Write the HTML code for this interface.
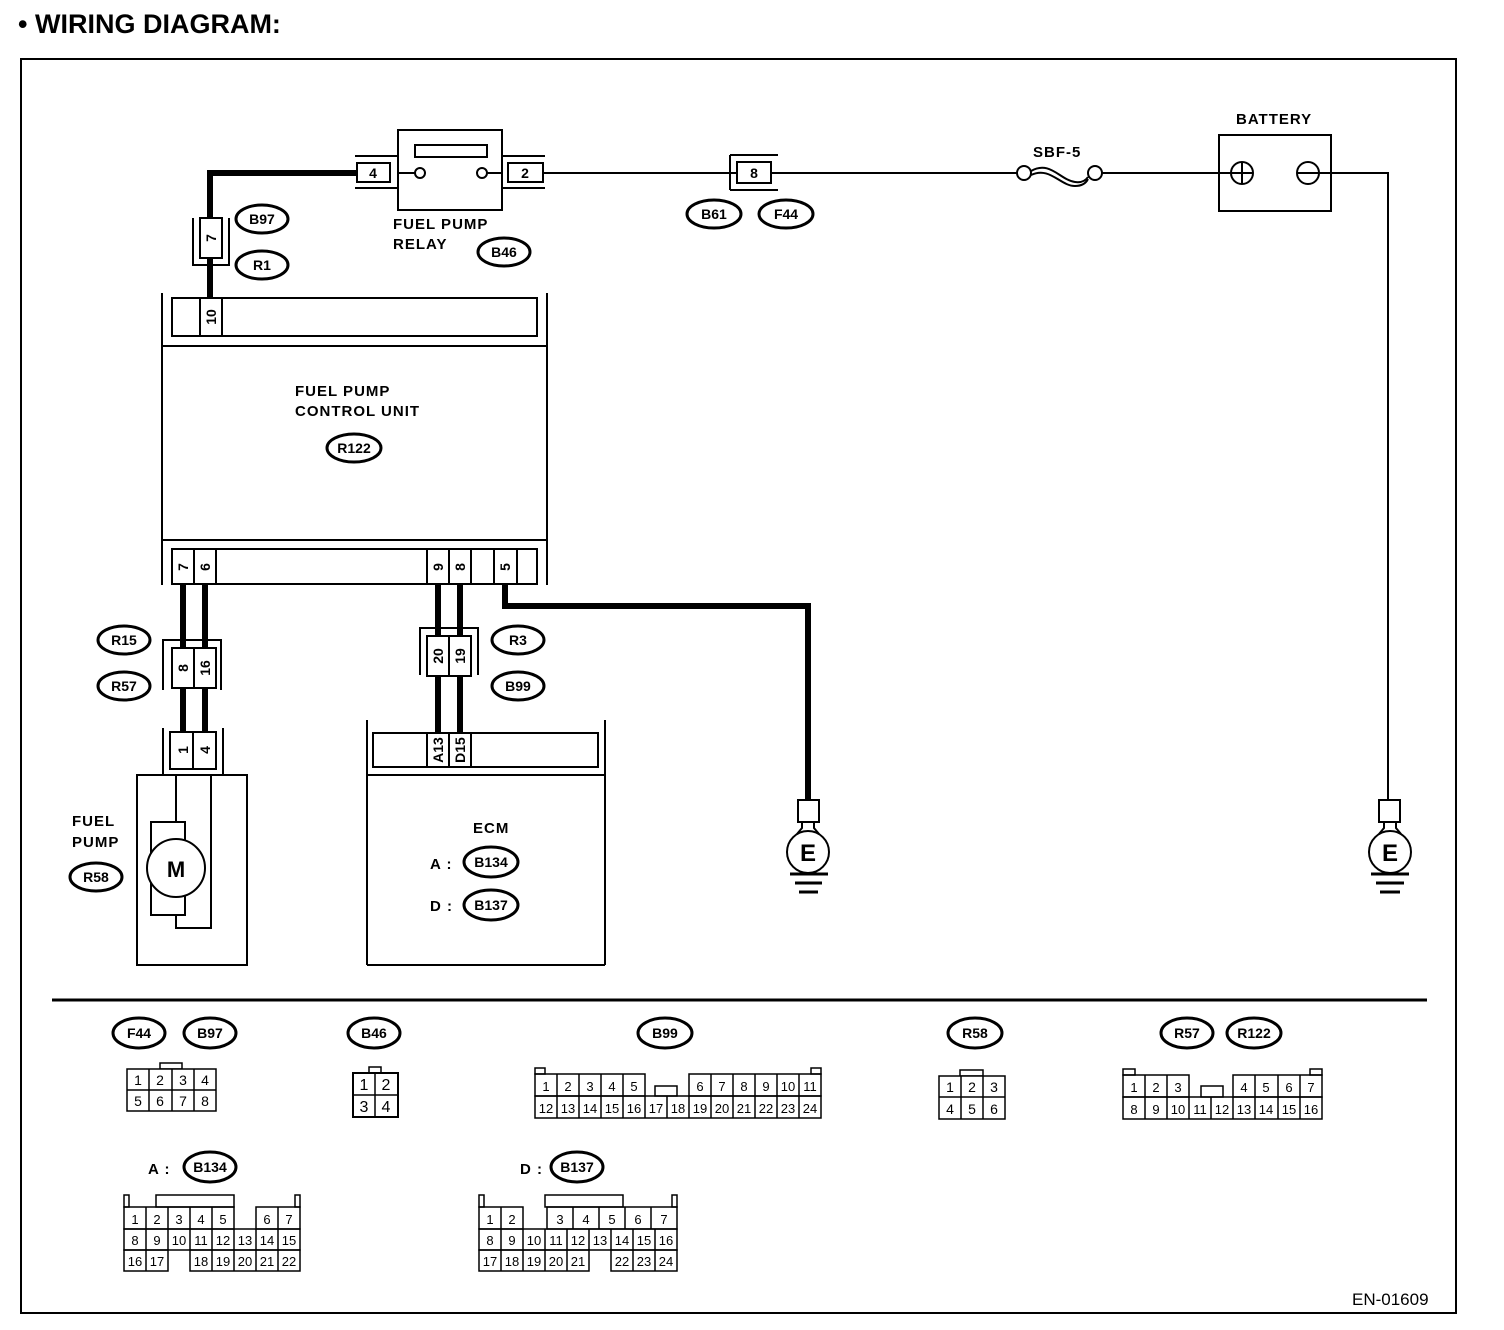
<!DOCTYPE html>
<html><head><meta charset="utf-8"><style>
body{margin:0;background:#fff}
svg{display:block}
text{font-family:"Liberation Sans",sans-serif;fill:#000}
.b{font-weight:bold;font-size:15px;letter-spacing:1px}
.o{font-weight:bold;font-size:14px}
.n{font-size:14px}
</style></head><body>
<svg width="1504" height="1330" viewBox="0 0 1504 1330" xmlns="http://www.w3.org/2000/svg">
<rect width="1504" height="1330" fill="#fff"/>
<text x="18" y="33" style="font-weight:bold;font-size:27px">•  WIRING DIAGRAM:</text>
<rect x="21" y="59" width="1435" height="1254" fill="none" stroke="#000" stroke-width="2"/>

<g fill="none" stroke="#000" stroke-width="2">
<rect x="398" y="130" width="104" height="80"/>
<rect x="415" y="145" width="72" height="12"/>
<circle cx="420" cy="173" r="5"/><circle cx="482" cy="173" r="5"/>
<line x1="398" y1="173" x2="415" y2="173"/><line x1="487" y1="173" x2="502" y2="173"/>
<rect x="357" y="163" width="33" height="19"/>
<line x1="355" y1="156" x2="398" y2="156"/><line x1="355" y1="188" x2="398" y2="188"/>
<rect x="508" y="163" width="35" height="19"/>
<line x1="502" y1="156" x2="545" y2="156"/><line x1="502" y1="188" x2="545" y2="188"/>
<rect x="200" y="218" width="22" height="40"/>
<polyline points="193,218 193,265 229,265 229,218"/>
<line x1="543" y1="173" x2="737" y2="173"/>
<rect x="737" y="162" width="34" height="21"/>
<polyline points="730,155 730,190"/>
<line x1="730" y1="155" x2="778" y2="155"/><line x1="730" y1="190" x2="778" y2="190"/>
<line x1="771" y1="173" x2="1017" y2="173"/>
<circle cx="1024" cy="173" r="7"/><circle cx="1095" cy="173" r="7"/>
<path d="M1031,171 C1050,160 1060,180 1075,182 C1082,183 1086,180 1088,177"/>
<path d="M1031,175 C1050,166 1060,186 1075,186 C1082,186 1086,183 1088,179"/>
<line x1="1102" y1="173" x2="1253" y2="173"/>
<rect x="1219" y="135" width="112" height="76"/>
<circle cx="1242" cy="173" r="11"/><line x1="1242" y1="162" x2="1242" y2="184"/>
<circle cx="1308" cy="173" r="11"/>
<polyline points="1297,173 1388,173 1388,800"/>
<line x1="162" y1="293" x2="162" y2="585"/><line x1="547" y1="293" x2="547" y2="585"/>
<rect x="172" y="298" width="365" height="38"/>
<line x1="200" y1="298" x2="200" y2="336"/><line x1="222" y1="298" x2="222" y2="336"/>
<rect x="162" y="346" width="385" height="194"/>
<rect x="172" y="549" width="365" height="35"/>
<line x1="194" y1="549" x2="194" y2="584"/><line x1="216" y1="549" x2="216" y2="584"/>
<line x1="427" y1="549" x2="427" y2="584"/><line x1="449" y1="549" x2="449" y2="584"/>
<line x1="471" y1="549" x2="471" y2="584"/><line x1="494" y1="549" x2="494" y2="584"/>
<line x1="517" y1="549" x2="517" y2="584"/>
<polyline points="163,690 163,640 221,640 221,690"/>
<rect x="172" y="648" width="44" height="40"/><line x1="194" y1="648" x2="194" y2="688"/>
<line x1="163" y1="728" x2="163" y2="775"/><line x1="223" y1="728" x2="223" y2="775"/>
<rect x="170" y="732" width="46" height="37"/><line x1="193" y1="732" x2="193" y2="769"/>
<rect x="137" y="775" width="110" height="190"/>
<line x1="176" y1="775" x2="176" y2="822"/>
<rect x="151" y="822" width="34" height="93"/>
<circle cx="176" cy="868" r="29" fill="#fff"/>
<polyline points="211,775 211,928 176,928 176,915"/>
<polyline points="420,675 420,628 478,628 478,675"/>
<rect x="427" y="636" width="44" height="40"/><line x1="449" y1="636" x2="449" y2="676"/>
<line x1="367" y1="720" x2="367" y2="965"/><line x1="605" y1="720" x2="605" y2="965"/>
<rect x="373" y="733" width="225" height="34"/>
<line x1="427" y1="733" x2="427" y2="767"/><line x1="449" y1="733" x2="449" y2="767"/><line x1="471" y1="733" x2="471" y2="767"/>
<line x1="367" y1="775" x2="605" y2="775"/><line x1="367" y1="965" x2="605" y2="965"/>
<rect x="798" y="800" width="21" height="22"/><circle cx="808" cy="852" r="21"/>
<path d="M802,822 L802,828 L797,834 M814,822 L814,828 L819,834"/>
<rect x="1379" y="800" width="21" height="22"/><circle cx="1390" cy="852" r="21"/>
<path d="M1384,822 L1384,828 L1379,834 M1396,822 L1396,828 L1401,834"/>
</g>
<g stroke="#000" stroke-width="3">
<line x1="790" y1="874" x2="828" y2="874"/><line x1="795" y1="883" x2="822" y2="883"/><line x1="799" y1="892" x2="818" y2="892"/>
<line x1="1371" y1="874" x2="1409" y2="874"/><line x1="1376" y1="883" x2="1404" y2="883"/><line x1="1380" y1="892" x2="1400" y2="892"/>
<line x1="52" y1="1000" x2="1427" y2="1000"/>
</g>
<g fill="none" stroke="#000" stroke-width="6">
<polyline points="357,173 210,173 210,218"/>
<line x1="210" y1="258" x2="210" y2="298"/>
<line x1="183" y1="584" x2="183" y2="648"/><line x1="205" y1="584" x2="205" y2="648"/>
<line x1="183" y1="688" x2="183" y2="732"/><line x1="205" y1="688" x2="205" y2="732"/>
<line x1="438" y1="584" x2="438" y2="636"/><line x1="460" y1="584" x2="460" y2="636"/>
<line x1="438" y1="676" x2="438" y2="733"/><line x1="460" y1="676" x2="460" y2="733"/>
<polyline points="505,584 505,606 808,606 808,800"/>
</g>
<g class="o" text-anchor="middle">
<text x="373" y="178">4</text><text x="525" y="178">2</text><text x="754" y="178">8</text>
<text transform="translate(216,238) rotate(-90)">7</text>
<text transform="translate(216,317) rotate(-90)">10</text>
<text transform="translate(188,567) rotate(-90)">7</text>
<text transform="translate(210,567) rotate(-90)">6</text>
<text transform="translate(443,567) rotate(-90)">9</text>
<text transform="translate(465,567) rotate(-90)">8</text>
<text transform="translate(510,567) rotate(-90)">5</text>
<text transform="translate(188,668) rotate(-90)">8</text>
<text transform="translate(210,668) rotate(-90)">16</text>
<text transform="translate(188,750) rotate(-90)">1</text>
<text transform="translate(210,750) rotate(-90)">4</text>
<text transform="translate(443,656) rotate(-90)">20</text>
<text transform="translate(465,656) rotate(-90)">19</text>
<text transform="translate(443,750) rotate(-90)">A13</text>
<text transform="translate(465,750) rotate(-90)">D15</text>
<text x="176" y="877" style="font-size:22px">M</text>
<text x="808" y="861" style="font-size:24px">E</text>
<text x="1390" y="861" style="font-size:24px">E</text>
</g>
<g class="b">
<text x="393" y="229">FUEL PUMP</text><text x="393" y="249">RELAY</text>
<text x="1236" y="124">BATTERY</text><text x="1033" y="157">SBF-5</text>
<text x="295" y="396">FUEL PUMP</text><text x="295" y="416">CONTROL UNIT</text>
<text x="72" y="826">FUEL</text><text x="72" y="847">PUMP</text>
<text x="473" y="833">ECM</text>
<text x="430" y="869">A :</text><text x="430" y="911">D :</text>
<text x="148" y="1174">A :</text><text x="520" y="1174">D :</text>
</g>
<g fill="none" stroke="#000" stroke-width="3">
<ellipse cx="262" cy="219" rx="26" ry="14"/><ellipse cx="262" cy="265" rx="26" ry="14"/>
<ellipse cx="504" cy="252" rx="26" ry="14"/><ellipse cx="714" cy="214" rx="27" ry="14"/>
<ellipse cx="786" cy="214" rx="27" ry="14"/><ellipse cx="354" cy="448" rx="27" ry="14"/>
<ellipse cx="124" cy="640" rx="26" ry="14"/><ellipse cx="124" cy="686" rx="26" ry="14"/>
<ellipse cx="518" cy="640" rx="26" ry="14"/><ellipse cx="518" cy="686" rx="26" ry="14"/>
<ellipse cx="96" cy="877" rx="26" ry="14"/>
<ellipse cx="491" cy="862" rx="27" ry="15"/><ellipse cx="491" cy="905" rx="27" ry="15"/>
<ellipse cx="139" cy="1033" rx="26" ry="15"/><ellipse cx="210" cy="1033" rx="26" ry="15"/>
<ellipse cx="374" cy="1033" rx="26" ry="15"/><ellipse cx="665" cy="1033" rx="27" ry="15"/>
<ellipse cx="975" cy="1033" rx="27" ry="15"/><ellipse cx="1187" cy="1033" rx="26" ry="15"/>
<ellipse cx="1254" cy="1033" rx="27" ry="15"/>
<ellipse cx="210" cy="1167" rx="26" ry="15"/><ellipse cx="577" cy="1167" rx="26" ry="15"/>
</g>
<g class="o" text-anchor="middle">
<text x="262" y="224">B97</text><text x="262" y="270">R1</text><text x="504" y="257">B46</text>
<text x="714" y="219">B61</text><text x="786" y="219">F44</text><text x="354" y="453">R122</text>
<text x="124" y="645">R15</text><text x="124" y="691">R57</text>
<text x="518" y="645">R3</text><text x="518" y="691">B99</text><text x="96" y="882">R58</text>
<text x="491" y="867">B134</text><text x="491" y="910">B137</text>
<text x="139" y="1038">F44</text><text x="210" y="1038">B97</text><text x="374" y="1038">B46</text>
<text x="665" y="1038">B99</text><text x="975" y="1038">R58</text><text x="1187" y="1038">R57</text>
<text x="1254" y="1038">R122</text><text x="210" y="1172">B134</text><text x="577" y="1172">B137</text>
</g>

<g fill="#fff" stroke="#000" stroke-width="1.5">
<rect x="160" y="1063" width="22" height="6"/>
<rect x="127" y="1069" width="89" height="42"/>
<rect x="369" y="1067" width="12" height="6"/>
<rect x="353" y="1073" width="45" height="44" stroke-width="2"/>
<rect x="535" y="1068" width="10" height="6"/><rect x="811" y="1068" width="10" height="6"/>
<rect x="655" y="1086" width="22" height="10"/>
<rect x="960" y="1070" width="23" height="6"/>
<rect x="939" y="1076" width="66" height="43"/>
<rect x="1123" y="1069" width="12" height="6"/><rect x="1310" y="1069" width="12" height="6"/>
<rect x="1201" y="1086" width="22" height="11"/>
<rect x="124" y="1195" width="5" height="12"/><rect x="295" y="1195" width="5" height="12"/>
<rect x="156" y="1195" width="78" height="12"/>
<rect x="479" y="1195" width="5" height="12"/><rect x="672" y="1195" width="5" height="12"/>
<rect x="545" y="1195" width="78" height="12"/>
</g>
<g fill="none" stroke="#000" stroke-width="1.5">
<line x1="127" y1="1090" x2="216" y2="1090"/>
<line x1="149" y1="1069" x2="149" y2="1111"/><line x1="172" y1="1069" x2="172" y2="1111"/><line x1="194" y1="1069" x2="194" y2="1111"/>
<line x1="353" y1="1095" x2="398" y2="1095"/><line x1="375" y1="1073" x2="375" y2="1117"/>
<line x1="939" y1="1097" x2="1005" y2="1097"/><line x1="961" y1="1076" x2="961" y2="1119"/><line x1="983" y1="1076" x2="983" y2="1119"/>
</g>
<g class="n" text-anchor="middle">
<text x="138" y="1085">1</text><text x="160" y="1085">2</text><text x="183" y="1085">3</text><text x="205" y="1085">4</text>
<text x="138" y="1106">5</text><text x="160" y="1106">6</text><text x="183" y="1106">7</text><text x="205" y="1106">8</text>
<text x="364" y="1090" style="font-size:16px">1</text><text x="386" y="1090" style="font-size:16px">2</text>
<text x="364" y="1112" style="font-size:16px">3</text><text x="386" y="1112" style="font-size:16px">4</text>
<text x="950" y="1092">1</text><text x="972" y="1092">2</text><text x="994" y="1092">3</text>
<text x="950" y="1114">4</text><text x="972" y="1114">5</text><text x="994" y="1114">6</text>
</g>

<g fill="none" stroke="#000" stroke-width="1.5">
<path d="M535,1074h110v22h-110z M557,1074v22 M579,1074v22 M601,1074v22 M623,1074v22"/>
<path d="M689,1074h132v22h-132z M711,1074v22 M733,1074v22 M755,1074v22 M777,1074v22 M799,1074v22"/>
<path d="M535,1096h286v22h-286z M557,1096v22 M579,1096v22 M601,1096v22 M623,1096v22 M645,1096v22 M667,1096v22 M689,1096v22 M711,1096v22 M733,1096v22 M755,1096v22 M777,1096v22 M799,1096v22"/>
<path d="M1123,1075h66v22h-66z M1145,1075v22 M1167,1075v22"/>
<path d="M1233,1075h89v22h-89z M1255,1075v22 M1278,1075v22 M1300,1075v22"/>
<path d="M1123,1097h199v22h-199z M1145,1097v22 M1167,1097v22 M1189,1097v22 M1211,1097v22 M1233,1097v22 M1255,1097v22 M1278,1097v22 M1300,1097v22"/>
<path d="M124,1207h110v22h-110z M146,1207v22 M168,1207v22 M190,1207v22 M212,1207v22"/>
<path d="M256,1207h44v22h-44z M278,1207v22"/>
<path d="M124,1229h176v21h-176z M146,1229v21 M168,1229v21 M190,1229v21 M212,1229v21 M234,1229v21 M256,1229v21 M278,1229v21"/>
<path d="M124,1250h44v21h-44z M146,1250v21"/>
<path d="M190,1250h110v21h-110z M212,1250v21 M234,1250v21 M256,1250v21 M278,1250v21"/>
<path d="M479,1207h44v22h-44z M501,1207v22"/>
<path d="M547,1207h130v22h-130z M573,1207v22 M599,1207v22 M625,1207v22 M651,1207v22"/>
<path d="M479,1229h198v21h-198z M501,1229v21 M523,1229v21 M545,1229v21 M567,1229v21 M589,1229v21 M611,1229v21 M633,1229v21 M655,1229v21"/>
<path d="M479,1250h110v21h-110z M501,1250v21 M523,1250v21 M545,1250v21 M567,1250v21"/>
<path d="M611,1250h66v21h-66z M633,1250v21 M655,1250v21"/>
</g>
<g class="n" text-anchor="middle" style="font-size:13px">
<text x="546" y="1091">1</text><text x="568" y="1091">2</text><text x="590" y="1091">3</text><text x="612" y="1091">4</text><text x="634" y="1091">5</text>
<text x="700" y="1091">6</text><text x="722" y="1091">7</text><text x="744" y="1091">8</text><text x="766" y="1091">9</text><text x="788" y="1091">10</text><text x="810" y="1091">11</text>
<text x="546" y="1113">12</text><text x="568" y="1113">13</text><text x="590" y="1113">14</text><text x="612" y="1113">15</text><text x="634" y="1113">16</text><text x="656" y="1113">17</text><text x="678" y="1113">18</text><text x="700" y="1113">19</text><text x="722" y="1113">20</text><text x="744" y="1113">21</text><text x="766" y="1113">22</text><text x="788" y="1113">23</text><text x="810" y="1113">24</text>
<text x="1134" y="1092">1</text><text x="1156" y="1092">2</text><text x="1178" y="1092">3</text>
<text x="1244" y="1092">4</text><text x="1266" y="1092">5</text><text x="1289" y="1092">6</text><text x="1311" y="1092">7</text>
<text x="1134" y="1114">8</text><text x="1156" y="1114">9</text><text x="1178" y="1114">10</text><text x="1200" y="1114">11</text><text x="1222" y="1114">12</text><text x="1244" y="1114">13</text><text x="1266" y="1114">14</text><text x="1289" y="1114">15</text><text x="1311" y="1114">16</text>
<text x="135" y="1224">1</text><text x="157" y="1224">2</text><text x="179" y="1224">3</text><text x="201" y="1224">4</text><text x="223" y="1224">5</text><text x="267" y="1224">6</text><text x="289" y="1224">7</text>
<text x="135" y="1245">8</text><text x="157" y="1245">9</text><text x="179" y="1245">10</text><text x="201" y="1245">11</text><text x="223" y="1245">12</text><text x="245" y="1245">13</text><text x="267" y="1245">14</text><text x="289" y="1245">15</text>
<text x="135" y="1266">16</text><text x="157" y="1266">17</text><text x="201" y="1266">18</text><text x="223" y="1266">19</text><text x="245" y="1266">20</text><text x="267" y="1266">21</text><text x="289" y="1266">22</text>
<text x="490" y="1224">1</text><text x="512" y="1224">2</text><text x="560" y="1224">3</text><text x="586" y="1224">4</text><text x="612" y="1224">5</text><text x="638" y="1224">6</text><text x="664" y="1224">7</text>
<text x="490" y="1245">8</text><text x="512" y="1245">9</text><text x="534" y="1245">10</text><text x="556" y="1245">11</text><text x="578" y="1245">12</text><text x="600" y="1245">13</text><text x="622" y="1245">14</text><text x="644" y="1245">15</text><text x="666" y="1245">16</text>
<text x="490" y="1266">17</text><text x="512" y="1266">18</text><text x="534" y="1266">19</text><text x="556" y="1266">20</text><text x="578" y="1266">21</text><text x="622" y="1266">22</text><text x="644" y="1266">23</text><text x="666" y="1266">24</text>
</g>
<text x="1352" y="1305" style="font-size:17px">EN-01609</text>
</svg>
</body></html>
